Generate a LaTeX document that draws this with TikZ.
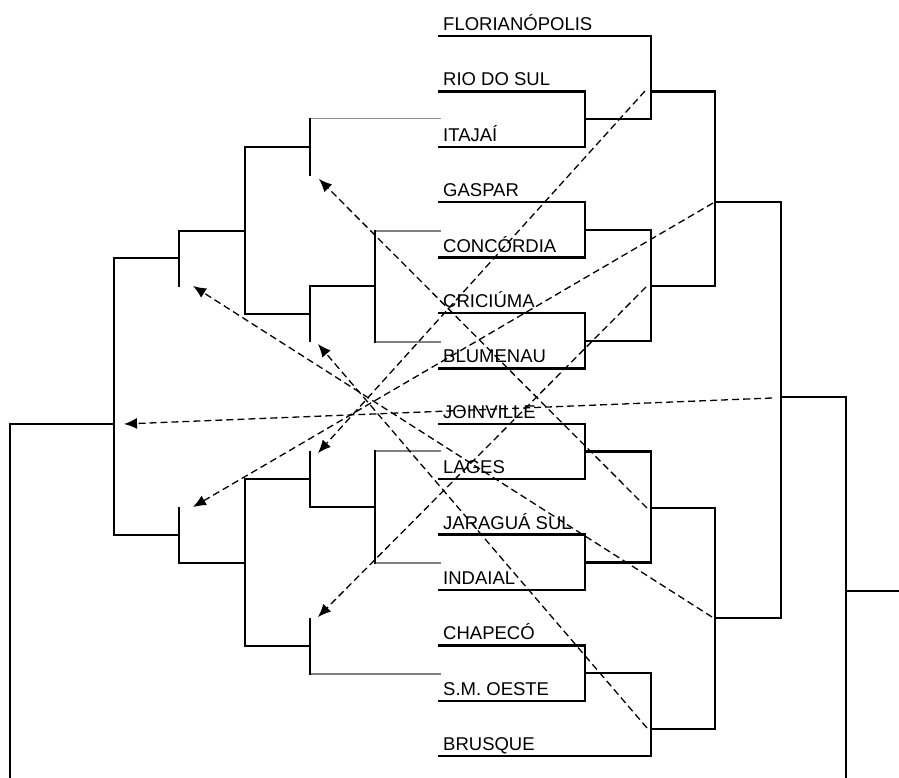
\documentclass[tikz,border=0pt]{standalone}
\usepackage{fontspec}
\setmainfont{Liberation Sans}
\usetikzlibrary{arrows.meta}
\begin{document}
\begin{tikzpicture}[x=1pt,y=-1pt,
  br/.style={line width=2.4pt, line join=miter, black},
  grayline/.style={line width=2.4pt, draw=black!50},
  thingray/.style={line width=1pt, draw=black!45},
  team/.style={anchor=base west, inner sep=0pt, font=\fontsize{18.5}{20}\selectfont},
  move/.style={line width=1.3pt, dash pattern=on 7pt off 4pt, -{Latex[length=13pt,width=11pt]}}]
\useasboundingbox (0,0) rectangle (899,778);

% team labels
\node[team] (flo) at (443,30.5) {FLORIANÓPOLIS};
\node[team] (rio) at (443,85.9) {RIO DO SUL};
\node[team] (ita) at (443,141.3) {ITAJAÍ};
\node[team] (gas) at (443,196.7) {GASPAR};
\node[team] (con) at (443,252.1) {CONCÓRDIA};
\node[team] (cri) at (443,307.5) {CRICIÚMA};
\node[team] (blu) at (443,362.9) {BLUMENAU};
\node[team] (joi) at (443,418.3) {JOINVILLE};
\node[team] (lag) at (443,473.7) {LAGES};
\node[team] (jar) at (443,529.1) {JARAGUÁ SUL};
\node[team] (ind) at (443,584.5) {INDAIAL};
\node[team] (cha) at (443,639.9) {CHAPECÓ};
\node[team] (smo) at (443,695.3) {S.M. OESTE};
\node[team] (bru) at (443,750.7) {BRUSQUE};

% right bracket
\draw[br] (438,36) -| (651,119.1) -- (585,119.1);
\draw[br] (438,91.4) -| (585,146.8) -- (438,146.8);
\draw[br] (651,91.4) -| (715,286) -- (651,286);
\draw[br] (438,202.2) -| (585,257.6) -- (438,257.6);
\draw[br] (585,229.9) -| (651,340.7) -- (585,340.7);
\draw[br] (438,313) -| (585,368.4) -- (438,368.4);
\draw[br] (715,202.2) -| (781,618) -- (715,618);
\draw[br] (438,423.8) -| (585,479.2) -- (438,479.2);
\draw[br] (585,451.5) -| (651,562.3) -- (585,562.3);
\draw[br] (438,534.6) -| (585,590) -- (438,590);
\draw[br] (651,508) -| (715,729) -- (651,729);
\draw[br] (438,645.4) -| (585,700.8) -- (438,700.8);
\draw[br] (585,673.1) -| (651,756.2) -- (438,756.2);
\draw[br] (781,397) -| (846,778);
\draw[br] (846,591) -- (899,591);

% left bracket
\draw[thingray] (310,119) -- (441,119);
\draw[grayline] (375,231) -- (441,231);
\draw[grayline] (375,342) -- (441,342);
\draw[grayline] (375,451) -- (441,451);
\draw[grayline] (375,563) -- (441,563);
\draw[grayline] (310,674) -- (441,674);
\draw[br] (310,118.5) -- (310,176);
\draw[br] (310,147) -| (245,314) -- (310,314);
\draw[br] (375,230) -- (375,343);
\draw[br] (375,286) -| (310,342);
\draw[br] (310,286) -- (310,342);
\draw[br] (245,231) -| (179,287);
\draw[br] (179,258) -| (114,535) -- (179,535);
\draw[br] (114,424) -| (10,778);
\draw[br] (375,450) -- (375,564);
\draw[br] (375,507) -| (310,451);
\draw[br] (310,479) -| (245,646) -- (310,646);
\draw[br] (179,507) |- (245,563);
\draw[br] (310,618) -- (310,675);

% arrow endpoints
\coordinate (s1) at (645,91);   \coordinate (t1) at (318,453);
\coordinate (s2) at (713,203);  \coordinate (t2) at (193,507);
\coordinate (s3) at (646,287);  \coordinate (t3) at (318,617);
\coordinate (s4) at (772,398);  \coordinate (t4) at (124,424);
\coordinate (s5) at (647,508);  \coordinate (t5) at (319,179);
\coordinate (s6) at (712,617);  \coordinate (t6) at (193,286);
\coordinate (s7) at (647,728);  \coordinate (t7) at (318,344);

\draw[move] (s1) -- (t1);
\draw[move] (s2) -- (t2);
\draw[move] (s3) -- (t3);
\draw[move] (s4) -- (t4);
\draw[move] (s5) -- (t5);
\draw[move] (s6) -- (t6);
\draw[move] (s7) -- (t7);
\end{tikzpicture}
\end{document}
